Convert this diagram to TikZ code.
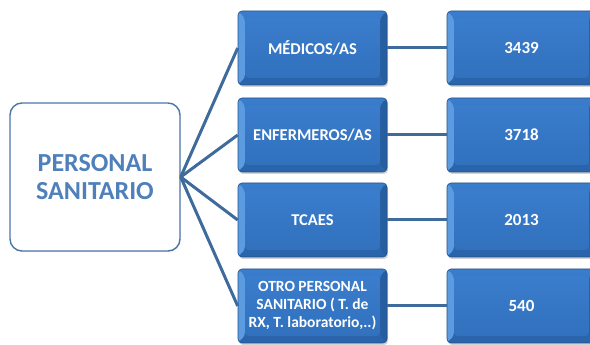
\documentclass[tikz,border=0pt]{standalone}
\usepackage{fontspec}
\setmainfont{Carlito}
\usetikzlibrary{shadows,positioning}
\definecolor{face}{HTML}{3171BE}
\definecolor{facetop}{HTML}{3A7DCC}
\definecolor{facebot}{HTML}{2A64AA}
\definecolor{edgec}{HTML}{24528C}
\definecolor{bevlight}{HTML}{5C9BE0}
\definecolor{bevdark}{HTML}{275E9F}
\definecolor{linkc}{HTML}{3E6A9C}
\definecolor{rootc}{HTML}{4F80BA}
\definecolor{rootedge}{HTML}{4C76A8}
\tikzset{
  x=1pt, y=1pt,
  bevbox/.style={rounded corners=4pt, minimum width=149pt, minimum height=74pt,
    top color=facetop, bottom color=facebot, draw=edgec, line width=0.6pt,
    text=white, font=\bfseries\fontsize{16.5}{19}\selectfont, align=center, inner sep=1pt,
    drop shadow={shadow xshift=1pt, shadow yshift=-2pt, opacity=0.35},
    path picture={
      \fill[bevlight] (path picture bounding box.north west) -- ++(7,-7)
        -- ([shift={(7,7)}]path picture bounding box.south west) -- (path picture bounding box.south west) -- cycle;
      \fill[bevdark] (path picture bounding box.north east) -- ++(-7,-7)
        -- ([shift={(-7,7)}]path picture bounding box.south east) -- (path picture bounding box.south east) -- cycle;
      \fill[facebot] (path picture bounding box.south west) -- ++(7,7)
        -- ([shift={(-7,7)}]path picture bounding box.south east) -- (path picture bounding box.south east) -- cycle;
      \shade[top color=facetop, bottom color=face] ([shift={(7,-7)}]path picture bounding box.north west)
        rectangle ([shift={(-7,7)}]path picture bounding box.south east);
    }},
  numbox/.style={bevbox, font=\bfseries\fontsize{17}{19}\selectfont},
  rootbox/.style={rounded corners=12pt, minimum width=170pt, minimum height=148pt,
    draw=rootedge, line width=1.4pt, fill=white, text=rootc,
    font=\bfseries\fontsize{26}{28}\selectfont, align=center,
    drop shadow={shadow xshift=0.5pt, shadow yshift=-1pt, opacity=0.2}},
  link/.style={draw=linkc, line width=3pt}
}
\begin{document}
\begin{tikzpicture}
\useasboundingbox (0,0) rectangle (590,345);
\begin{scope}
\clip (0,0) rectangle (590,345);
\node[rootbox] (root) at (95,168) {PERSONAL\\SANITARIO};

\node[bevbox] (m1) at (312.5,297) {MÉDICOS/AS};
\node[bevbox] (m2) at (312.5,210) {ENFERMEROS/AS};
\node[bevbox] (m3) at (312.5,125) {TCAES};
\node[bevbox, font=\bfseries\fontsize{15.5}{18}\selectfont] (m4) at (312.5,39)
  {OTRO PERSONAL\\SANITARIO ( T. de\\RX, T. laboratorio,..)};

\node[numbox] (n1) at (521.5,297) {3439};
\node[numbox] (n2) at (521.5,210) {3718};
\node[numbox] (n3) at (521.5,125) {2013};
\node[numbox] (n4) at (521.5,39) {540};

\foreach \m in {m1,m2,m3,m4} {
  \draw[link] (root.east) -- (\m.west);
}
\draw[link] (m1.east) -- (n1.west);
\draw[link] (m2.east) -- (n2.west);
\draw[link] (m3.east) -- (n3.west);
\draw[link] (m4.east) -- (n4.west);
\end{scope}
\end{tikzpicture}
\end{document}
